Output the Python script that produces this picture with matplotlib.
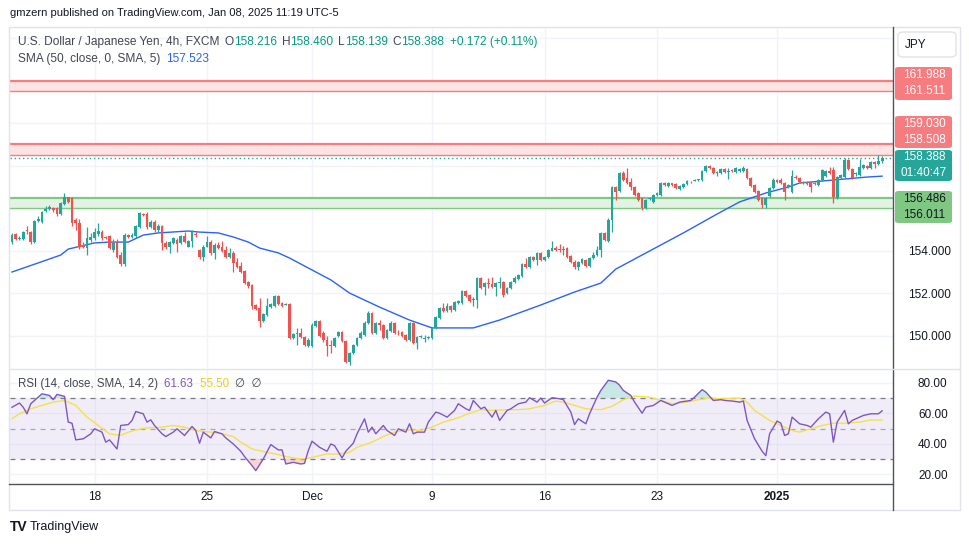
import numpy as np
import matplotlib.pyplot as plt
from matplotlib.patches import FancyBboxPatch, Rectangle
from matplotlib.lines import Line2D

plt.rcParams['font.family'] = ['Liberation Sans', 'DejaVu Sans']

# ---- data: USDJPY 4h candles ----
opens = [154.42, 154.80, 154.56, 154.56, 154.99, 154.89, 154.42, 155.41, 155.36, 155.88,
         155.98, 156.02, 156.02, 155.74, 156.21, 156.54, 156.49, 155.46, 155.32, 154.28,
         154.14, 154.52, 154.61, 154.80, 154.89, 154.66, 154.71, 154.05, 154.42, 153.81,
         153.39, 154.75, 154.66, 154.71, 155.13, 155.74, 155.74, 155.13, 155.36, 154.99,
         155.18, 154.38, 154.19, 154.38, 154.52, 154.38, 154.71, 154.19, 154.47, 154.80,
         154.05, 153.72, 154.19, 154.42, 153.91, 154.28, 154.19, 154.05, 153.72, 153.91,
         153.48, 153.29, 153.06, 152.54, 152.40, 151.46, 151.32, 150.71, 150.99, 151.36,
         151.41, 151.88, 151.55, 151.46, 151.51, 149.91, 150.09, 150.14, 149.95, 149.53,
         149.53, 150.47, 150.71, 150.14, 149.81, 149.58, 149.53, 150.00, 150.19, 149.76,
         148.78, 149.20, 149.58, 149.91, 150.05, 150.61, 151.08, 150.14, 150.61, 150.52,
         149.91, 150.24, 150.61, 150.14, 150.19, 150.05, 149.81, 150.61, 149.67, 149.95,
         149.86, 149.91, 149.91, 150.38, 150.85, 151.32, 151.18, 151.41, 151.22, 151.55,
         151.55, 152.12, 151.93, 151.69, 151.69, 152.73, 152.31, 152.49, 152.45, 152.31,
         152.49, 152.54, 152.02, 152.26, 152.54, 152.68, 152.82, 153.39, 153.25, 153.72,
         153.58, 153.91, 153.58, 153.72, 154.00, 154.14, 154.09, 154.05, 154.14, 153.76,
         153.48, 153.25, 153.44, 153.58, 153.29, 153.67, 153.81, 154.05, 154.85, 154.47,
         155.46, 157.01, 156.82, 157.67, 157.44, 157.25, 157.01, 156.73, 156.49, 156.02,
         156.45, 156.31, 156.64, 156.64, 157.20, 157.06, 157.20, 157.15, 156.92, 157.01,
         157.15, 157.25, 157.29, 157.34, 157.34, 157.76, 158.00, 157.91, 157.67, 157.67,
         157.86, 157.72, 157.81, 157.72, 157.76, 157.76, 157.86, 157.44, 157.11, 156.82,
         156.49, 156.16, 156.59, 156.96, 157.34, 157.34, 157.20, 157.01, 156.78, 157.48,
         157.44, 157.20, 157.25, 157.25, 157.20, 157.11, 157.34, 157.53, 157.76, 157.81,
         156.49, 157.44, 157.48, 158.28, 157.86, 157.62, 157.58, 157.91, 158.00, 157.91,
         158.19, 158.09, 158.216]
highs = [154.85, 154.85, 154.71, 154.94, 155.18, 154.94, 155.46, 155.65, 155.88, 156.12,
         156.16, 156.07, 156.07, 156.31, 156.73, 156.54, 156.54, 155.55, 155.51, 154.42,
         155.13, 154.85, 155.08, 155.32, 154.99, 154.71, 154.75, 154.56, 154.56, 153.95,
         154.85, 154.80, 154.85, 155.22, 155.84, 155.79, 155.84, 155.46, 155.46, 155.27,
         155.22, 154.47, 154.47, 154.66, 154.61, 154.75, 154.89, 154.52, 154.99, 154.89,
         154.09, 154.28, 154.71, 154.52, 154.38, 154.42, 154.47, 154.24, 154.14, 154.00,
         153.67, 153.48, 153.11, 152.59, 152.45, 151.51, 151.79, 151.08, 151.79, 151.55,
         151.93, 151.93, 151.60, 151.55, 151.55, 150.14, 150.38, 150.38, 150.00, 149.91,
         150.61, 150.75, 150.75, 150.24, 150.00, 149.81, 149.95, 150.24, 150.24, 149.81,
         149.25, 149.62, 149.95, 150.24, 150.71, 151.18, 151.13, 150.66, 150.75, 150.56,
         150.33, 150.71, 150.66, 150.28, 150.24, 150.09, 150.66, 150.66, 150.00, 150.05,
         150.05, 150.00, 150.42, 150.94, 151.36, 151.55, 151.55, 151.46, 151.65, 151.69,
         152.16, 152.16, 151.98, 151.84, 152.78, 152.78, 152.54, 152.73, 152.78, 152.54,
         152.78, 152.59, 152.31, 152.59, 152.82, 152.92, 153.44, 153.67, 153.76, 153.76,
         153.95, 153.95, 153.76, 154.09, 154.47, 154.24, 154.33, 154.24, 154.19, 153.81,
         153.58, 153.53, 153.67, 153.62, 153.72, 153.95, 154.24, 154.89, 154.89, 155.55,
         157.06, 157.06, 157.72, 157.76, 157.91, 157.44, 157.06, 156.78, 156.54, 156.45,
         156.54, 156.68, 156.78, 157.25, 157.25, 157.25, 157.20, 157.20, 157.11, 157.20,
         157.34, 157.29, 157.39, 157.39, 157.81, 158.05, 158.05, 157.95, 157.76, 157.91,
         157.91, 157.91, 157.86, 157.95, 157.91, 158.00, 157.91, 157.48, 157.15, 156.87,
         156.54, 156.54, 157.01, 157.44, 157.39, 157.44, 157.25, 157.15, 157.81, 157.58,
         157.48, 157.29, 157.29, 157.29, 157.25, 157.39, 157.86, 157.81, 157.95, 157.95,
         157.53, 157.62, 158.38, 158.33, 157.91, 157.72, 158.33, 158.09, 158.05, 158.24,
         158.24, 158.52, 158.460]
lows = [154.33, 154.52, 154.52, 154.52, 154.80, 154.33, 154.38, 155.36, 155.32, 155.84,
        155.93, 155.84, 155.65, 155.69, 156.16, 156.26, 155.18, 154.99, 154.09, 154.14,
        153.81, 154.42, 154.52, 154.71, 154.52, 154.56, 154.09, 153.95, 153.67, 153.29,
        153.29, 154.61, 154.61, 154.61, 155.08, 155.65, 155.04, 155.08, 154.89, 154.89,
        154.05, 154.09, 153.91, 154.33, 153.95, 154.33, 154.38, 154.19, 154.19, 154.66,
        153.62, 153.53, 154.19, 153.81, 153.62, 154.09, 153.95, 153.67, 153.67, 153.01,
        153.20, 152.96, 152.45, 152.26, 151.27, 151.22, 150.42, 150.66, 150.94, 151.32,
        151.36, 151.46, 151.36, 151.46, 149.86, 149.86, 149.58, 149.91, 149.53, 149.48,
        149.48, 150.42, 149.95, 149.72, 149.06, 149.20, 149.48, 149.95, 149.72, 148.73,
        148.64, 149.15, 149.53, 149.86, 150.00, 150.56, 150.09, 150.09, 150.28, 149.86,
        149.86, 150.19, 150.09, 150.05, 149.95, 149.76, 149.76, 149.62, 149.39, 149.91,
        149.72, 149.86, 149.86, 150.33, 150.80, 151.13, 151.13, 151.13, 151.18, 151.51,
        151.51, 151.84, 151.60, 151.41, 151.32, 152.21, 151.93, 152.26, 152.26, 151.88,
        152.26, 151.84, 151.98, 152.21, 152.49, 152.64, 152.78, 153.20, 153.20, 153.53,
        153.34, 153.53, 153.53, 153.67, 154.00, 154.00, 153.95, 153.81, 153.67, 153.44,
        153.15, 153.11, 153.39, 153.25, 153.25, 153.62, 153.76, 153.72, 154.47, 154.42,
        154.89, 156.40, 156.78, 157.29, 157.15, 156.87, 156.59, 156.35, 155.93, 155.98,
        156.40, 156.26, 156.59, 156.59, 157.06, 157.01, 157.06, 156.92, 156.87, 156.96,
        157.11, 157.20, 157.29, 157.29, 157.29, 157.72, 157.86, 157.62, 157.53, 157.62,
        157.67, 157.39, 157.72, 157.67, 157.72, 157.72, 157.39, 157.01, 156.73, 156.35,
        156.02, 156.02, 156.54, 156.92, 157.20, 157.15, 156.40, 156.96, 156.73, 157.39,
        157.20, 157.15, 157.11, 156.78, 157.11, 157.06, 157.29, 157.48, 157.62, 156.26,
        156.45, 157.39, 157.44, 157.81, 157.39, 157.53, 157.53, 157.86, 157.86, 157.86,
        157.91, 158.05, 158.139]
closes = [154.75, 154.56, 154.61, 154.89, 154.94, 154.42, 155.41, 155.51, 155.84, 155.98,
          156.07, 155.93, 155.74, 156.26, 156.54, 156.31, 155.32, 155.32, 154.19, 154.19,
          154.61, 154.66, 154.89, 154.94, 154.61, 154.61, 154.14, 154.38, 153.72, 153.39,
          154.75, 154.66, 154.75, 155.18, 155.79, 155.69, 155.13, 155.36, 154.99, 155.18,
          154.38, 154.19, 154.42, 154.61, 154.33, 154.71, 154.42, 154.47, 154.89, 154.75,
          153.72, 154.19, 154.42, 153.91, 154.28, 154.14, 154.00, 153.72, 153.91, 153.44,
          153.25, 153.01, 152.49, 152.35, 151.41, 151.27, 150.71, 151.04, 151.41, 151.51,
          151.88, 151.51, 151.41, 151.51, 149.91, 150.09, 150.14, 149.95, 149.58, 149.81,
          150.52, 150.71, 150.00, 149.81, 149.53, 149.55, 149.91, 150.19, 149.76, 148.78,
          149.20, 149.58, 149.91, 150.14, 150.61, 151.08, 150.14, 150.61, 150.52, 149.91,
          150.28, 150.61, 150.14, 150.12, 150.00, 149.81, 150.61, 149.67, 149.95, 150.00,
          149.91, 149.95, 150.38, 150.89, 151.32, 151.18, 151.41, 151.22, 151.60, 151.65,
          152.12, 151.88, 151.65, 151.74, 152.73, 152.26, 152.49, 152.45, 152.31, 152.49,
          152.54, 151.93, 152.26, 152.54, 152.73, 152.87, 153.39, 153.25, 153.72, 153.58,
          153.91, 153.58, 153.72, 154.05, 154.14, 154.05, 154.07, 154.09, 153.72, 153.48,
          153.25, 153.48, 153.62, 153.29, 153.67, 153.81, 154.05, 154.85, 154.52, 155.46,
          157.01, 156.78, 157.67, 157.34, 157.20, 157.01, 156.64, 156.40, 156.02, 156.40,
          156.49, 156.64, 156.73, 157.20, 157.11, 157.20, 157.11, 156.96, 157.06, 157.15,
          157.29, 157.23, 157.34, 157.35, 157.76, 158.00, 157.91, 157.67, 157.68, 157.86,
          157.72, 157.76, 157.76, 157.91, 157.86, 157.91, 157.44, 157.06, 156.78, 156.40,
          156.16, 156.49, 156.96, 157.34, 157.25, 157.20, 156.78, 157.11, 157.53, 157.44,
          157.25, 157.25, 157.15, 157.01, 157.15, 157.34, 157.81, 157.76, 157.67, 156.54,
          157.48, 157.58, 158.28, 157.86, 157.44, 157.63, 157.95, 158.05, 157.91, 158.19,
          158.09, 158.22, 158.388]

# SMA(50): candle index -> value
sma_idx = [0, 7, 13, 15, 22, 26, 31, 35, 39, 47, 50, 55, 59, 63, 66, 71, 74, 79, 85, 90,
           98, 106, 112, 123, 130, 141, 150, 157, 161, 170, 179, 188, 194, 201, 207, 210,
           219, 228, 232]
sma_vals = [153.01, 153.44, 153.81, 154.09, 154.38, 154.42, 154.42, 154.75, 154.85, 154.94,
            154.89, 154.85, 154.66, 154.42, 154.14, 153.91, 153.67, 153.20, 152.64, 152.02,
            151.36, 150.75, 150.38, 150.38, 150.75, 151.46, 152.07, 152.49, 153.15, 154.00,
            154.85, 155.74, 156.31, 156.73, 157.01, 157.20, 157.34, 157.48, 157.523]

rsi_idx = [0, 2, 3, 4, 5, 7, 8, 10, 11, 12, 14, 15, 16, 17, 19, 21, 22, 24, 25, 26,
           28, 29, 31, 32, 33, 35, 36, 37, 38, 40, 41, 43, 44, 46, 48, 49, 50, 51, 53, 54,
           56, 57, 59, 61, 62, 64, 65, 67, 69, 71, 72, 73, 75, 77, 78, 79, 80, 82, 84, 85,
           86, 88, 89, 91, 92, 94, 95, 96, 97, 99, 100, 102, 103, 105, 106, 107, 108, 110, 111, 113,
           114, 116, 118, 119, 121, 122, 123, 125, 126, 128, 129, 130, 132, 133, 135, 137, 138, 140, 141, 142,
           144, 146, 147, 149, 150, 151, 153, 154, 156, 157, 159, 161, 162, 163, 165, 166, 168, 169, 171, 173,
           174, 176, 178, 180, 181, 182, 184, 185, 187, 189, 190, 192, 194, 195, 196, 198, 200, 201, 202, 204,
           205, 206, 207, 208, 210, 212, 213, 215, 217, 218, 219, 220, 222, 223, 224, 226, 227, 229, 231, 232]
rsi_vals = [64.0, 66.8, 64.0, 59.7, 66.3, 70.7, 72.9, 71.8, 69.0, 72.5, 71.2, 54.2, 53.5, 42.5, 43.2, 46.5, 49.8, 47.6, 41.0, 42.5,
            36.5, 52.0, 52.6, 55.3, 61.2, 59.7, 54.2, 55.7, 52.0, 46.5, 44.7, 47.6, 49.8, 45.4, 51.3, 48.7, 40.3, 47.6, 43.8, 48.0,
            46.5, 43.8, 39.8, 35.0, 31.5, 25.5, 22.2, 29.9, 39.4, 35.9, 35.9, 26.6, 27.7, 26.6, 27.0, 35.4, 41.6, 37.6, 35.0, 39.8,
            38.7, 30.6, 35.0, 40.3, 46.5, 56.4, 47.6, 50.9, 46.5, 52.0, 48.7, 45.4, 49.8, 47.6, 53.1, 46.5, 47.6, 47.6, 54.2, 60.8,
            60.1, 57.5, 61.9, 66.3, 63.0, 61.9, 68.5, 63.0, 64.1, 57.5, 61.9, 55.3, 61.9, 63.0, 66.3, 67.4, 70.3, 67.4, 70.1, 66.8,
            70.3, 69.6, 69.0, 60.8, 52.6, 56.4, 53.1, 59.7, 70.7, 75.1, 81.8, 80.7, 78.5, 75.1, 71.8, 67.4, 60.1, 64.1, 65.2, 68.5,
            67.4, 65.2, 67.4, 68.1, 68.5, 70.7, 75.6, 74.0, 68.5, 69.0, 68.5, 68.1, 67.4, 68.1, 55.3, 43.2, 35.0, 32.1, 46.5, 54.9,
            53.5, 45.4, 46.5, 57.5, 53.1, 52.0, 50.9, 56.4, 60.8, 59.7, 41.0, 54.2, 61.9, 53.1, 55.3, 57.5, 58.6, 59.7, 59.7, 61.63]
sig_idx = [0, 2, 5, 8, 11, 14, 17, 20, 23, 26, 29, 31, 35, 40, 43, 46, 49, 53, 56, 59,
           61, 64, 68, 71, 74, 77, 79, 82, 84, 87, 90, 92, 96, 99, 102, 105, 109, 112, 115, 119,
           122, 125, 128, 132, 135, 138, 142, 145, 147, 150, 153, 157, 160, 163, 166, 170, 173, 176, 180, 183,
           186, 189, 194, 196, 198, 202, 205, 208, 210, 212, 216, 219, 222, 226, 229, 232]
sig_vals = [56.4, 59.7, 63.0, 65.2, 67.4, 68.5, 65.2, 57.5, 52.0, 46.5, 45.4, 47.6, 50.2, 50.9, 52.0, 50.9, 48.7, 47.6, 46.5, 44.7,
            41.0, 36.5, 34.3, 32.8, 31.0, 29.9, 30.3, 32.1, 33.2, 33.2, 34.3, 37.6, 41.0, 44.7, 47.6, 49.1, 48.7, 50.9, 54.2, 57.1,
            60.1, 62.4, 61.9, 62.4, 62.4, 63.0, 65.2, 68.1, 67.4, 65.2, 63.0, 62.4, 64.6, 69.0, 71.4, 70.7, 68.5, 66.3, 67.4, 69.0,
            70.1, 69.6, 70.1, 67.4, 61.9, 55.3, 52.0, 48.7, 47.6, 49.1, 52.0, 53.5, 53.5, 54.2, 55.7, 55.50]

# horizontal zones (price levels)
red_zone_hi = [161.988, 161.511]
red_zone_lo = [159.030, 158.508]
green_zone = [156.486, 156.011]
last_price = 158.388
countdown = '01:40:47'

tick_idx = [22, 52, 80, 112, 142, 172, 204]
tick_labels = ['18', '25', 'Dec', '9', '16', '23', '2025']

UP, DN = '#26a69a', '#ef5350'
GRID = '#f0f3fa'
W, H = 970, 545


def fx(x):
    return x / W


def fy(y):
    return 1 - y / H


fig = plt.figure(figsize=(W / 100, H / 100), dpi=100)
fig.patch.set_facecolor('white')
renderer = fig.canvas.get_renderer()

ax = fig.add_axes([fx(10), fy(368), (893 - 10) / W, (368 - 28) / H])
ax2 = fig.add_axes([fx(10), fy(484), (893 - 10) / W, (484 - 369) / H])

o = np.array(opens)
h = np.array(highs)
l = np.array(lows)
c = np.array(closes)
idx = np.arange(len(c))
col = np.where(c >= o, UP, DN)

# zones
for lo_hi, fc, ec in [(red_zone_hi, '#fde3e3', '#f77c80'), (red_zone_lo, '#fde3e3', '#f77c80'),
                      (green_zone, '#e3f3e3', '#81c784')]:
    ax.axhspan(lo_hi[1], lo_hi[0], color=fc, lw=0, zorder=1)
    ax.axhline(lo_hi[0], color=ec, lw=1.6, zorder=1.5)
    ax.axhline(lo_hi[1], color=ec, lw=1.0, zorder=1.5)

# candles
ax.vlines(idx, l, h, colors=col, lw=0.9, zorder=3)
body = np.maximum(np.abs(c - o), 0.04)
ax.bar(idx, body, bottom=np.minimum(o, c), width=0.74, color=col, lw=0, zorder=3)

# SMA
ax.plot(sma_idx, sma_vals, color='#2962ff', lw=1.0, zorder=2.5)

# last price dotted line
ax.axhline(last_price, color=UP, lw=1.0, ls=(0, (1, 2)), zorder=2)

ax.set_xlim(-0.53, 234.9)
ax.set_ylim(148.494, 164.494)
price_grid = [150, 152, 154, 156, 158, 160, 162, 164]
ax.set_yticks(price_grid)
ax.set_yticklabels(['150.000', '152.000', '154.000', '', '', '', '', ''])
ax.yaxis.tick_right()
ax.tick_params(axis='y', length=0, pad=11, labelsize=8.5, labelcolor='#131722')
ax.set_xticks(tick_idx)
ax.tick_params(axis='x', length=0, labelbottom=False)
ax.grid(True, color=GRID, lw=1)
ax.set_axisbelow(True)
for s in ax.spines.values():
    s.set_visible(False)

# RSI pane
ax2.axhspan(30, 70, color='#7e57c2', alpha=0.1, lw=0)
for lvl, a in [(70, 1), (50, 0.6), (30, 1)]:
    ax2.axhline(lvl, color='#787b86', lw=0.9, ls=(0, (4, 4)), alpha=a)
r_i = np.array(rsi_idx)
r_v = np.array(rsi_vals)
ax2.fill_between(r_i, r_v, 70, where=r_v > 70, interpolate=True, color='#26a69a', alpha=0.25, lw=0)
ax2.fill_between(r_i, r_v, 30, where=r_v < 30, interpolate=True, color='#ef5350', alpha=0.25, lw=0)
ax2.plot(sig_idx, sig_vals, color='#f5e04a', lw=1.0)
ax2.plot(rsi_idx, rsi_vals, color='#7e57c2', lw=1.0)
ax2.set_xlim(-0.53, 234.9)
ax2.set_ylim(13.41, 89.23)
ax2.set_yticks([20, 40, 60, 80])
ax2.set_yticklabels(['20.00', '40.00', '60.00', '80.00'])
ax2.yaxis.tick_right()
ax2.tick_params(axis='y', length=0, pad=18, labelsize=8.5, labelcolor='#131722')
ax2.set_xticks(tick_idx)
ax2.set_xticklabels(tick_labels)
ax2.get_xticklabels()[-1].set_fontweight('bold')
ax2.tick_params(axis='x', length=0, pad=5, labelsize=8.5, labelcolor='#131722')
ax2.grid(True, color=GRID, lw=1)
ax2.set_axisbelow(True)
for s in ax2.spines.values():
    s.set_visible(False)

# frame and separators
fig.add_artist(Rectangle((fx(9), fy(510)), (960 - 9) / W, (510 - 27) / H, transform=fig.transFigure,
                         fill=False, ec='#e0e3eb', lw=1))
fig.add_artist(Line2D([fx(893), fx(893)], [fy(510), fy(27)], transform=fig.transFigure, color='#50535e', lw=1))
fig.add_artist(Line2D([fx(9), fx(893)], [fy(484), fy(484)], transform=fig.transFigure, color='#50535e', lw=1))
fig.add_artist(Line2D([fx(9), fx(960)], [fy(368.5), fy(368.5)], transform=fig.transFigure, color='#e0e3eb', lw=1))


def label_box(y0, y1, fc, lines, tc):
    fig.add_artist(FancyBboxPatch((fx(895), fy(y1)), (952 - 895) / W, (y1 - y0) / H,
                                  boxstyle='round,pad=0,rounding_size=0.004', transform=fig.transFigure,
                                  fc=fc, ec='none'))
    mid = (y0 + y1) / 2
    fig.text(fx(924), fy(mid - 8), lines[0], color=tc, fontsize=8.5, ha='center', va='center')
    fig.text(fx(924), fy(mid + 8), lines[1], color=tc, fontsize=8.5, ha='center', va='center')


label_box(67, 100, '#f77c80', [f'{red_zone_hi[0]:.3f}', f'{red_zone_hi[1]:.3f}'], 'white')
label_box(116, 148, '#f77c80', [f'{red_zone_lo[0]:.3f}', f'{red_zone_lo[1]:.3f}'], 'white')
label_box(150, 181, UP, [f'{last_price:.3f}', countdown], 'white')
label_box(191, 223, '#81c784', [f'{green_zone[0]:.3f}', f'{green_zone[1]:.3f}'], '#131722')

fig.add_artist(FancyBboxPatch((fx(898), fy(57)), (956 - 898) / W, (57 - 32) / H,
                              boxstyle='round,pad=0,rounding_size=0.006', transform=fig.transFigure,
                              fc='white', ec='#e0e3eb', lw=1))
fig.text(fx(916), fy(44.5), 'JPY', fontsize=8.5, color='#131722', va='center', ha='center')


def rich(x, y, parts, size=8.6):
    # draw coloured pieces one after another on a line; a number is a gap in pixels
    for p in parts:
        if isinstance(p, (int, float)):
            x += p
            continue
        s, colr = p
        t = fig.text(fx(x), fy(y), s, fontsize=size, color=colr, va='center')
        x += t.get_window_extent(renderer).width


GRAY, TEAL = '#434651', '#089981'
chg = closes[-1] - opens[-1]
fig.text(fx(10), fy(13), 'gmzern published on TradingView.com, Jan 08, 2025 11:19 UTC-5',
         fontsize=8, color='#131722', va='center')
rich(18, 42, [('U.S. Dollar / Japanese Yen, 4h, FXCM', GRAY), 5,
              ('O', GRAY), (f'{opens[-1]:.3f}', TEAL), 5,
              ('H', GRAY), (f'{highs[-1]:.3f}', TEAL), 5,
              ('L', GRAY), (f'{lows[-1]:.3f}', TEAL), 5,
              ('C', GRAY), (f'{closes[-1]:.3f}', TEAL), 6,
              (f'+{chg:.3f} (+{chg / opens[-1] * 100:.2f}%)', TEAL)])
rich(18, 59, [('SMA (50, close, 0, SMA, 5)', GRAY), 6, (f'{sma_vals[-1]:.3f}', '#2962ff')])
rich(18, 384, [('RSI (14, close, SMA, 14, 2)  ', GRAY), (f'{rsi_vals[-1]:.2f}  ', '#7e57c2'),
               (f'{sig_vals[-1]:.2f}  ', '#e8cf1a'), ('\u2205  \u2205', GRAY)], size=8.3)

# footer
fig.text(fx(10), fy(527), 'TV', fontsize=10, fontweight='heavy', color='#131722', va='center')
fig.text(fx(30), fy(527), 'TradingView', fontsize=9, color='#131722', va='center')

fig.savefig('out.png', dpi=100)
